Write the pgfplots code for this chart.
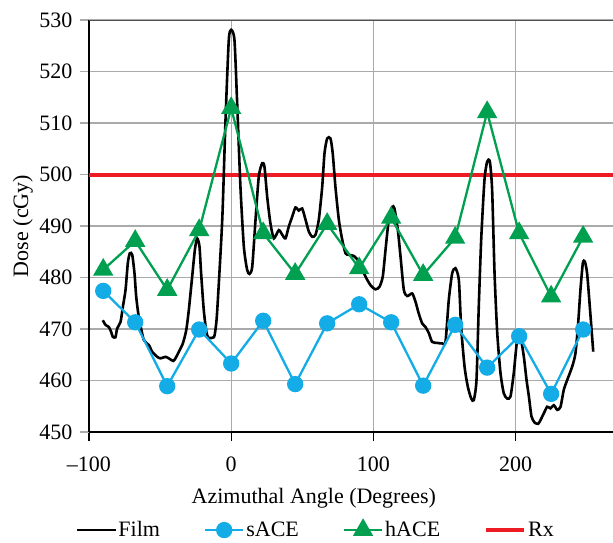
\documentclass[border=0pt]{standalone}
\usepackage{fontspec}
\setmainfont{Liberation Serif}
\usepackage{pgfplots}
\pgfplotsset{compat=1.18}
\definecolor{saceblue}{RGB}{20,172,230}
\definecolor{hacegreen}{RGB}{0,160,80}
\definecolor{rxred}{RGB}{237,28,36}
\definecolor{gridgray}{RGB}{170,170,170}
\definecolor{topgray}{RGB}{80,80,80}
\newcommand{\bigf}{\fontsize{22}{26}\selectfont}
\begin{document}
\begin{tikzpicture}
\path[use as bounding box] (-89pt,-110pt) rectangle (524pt,432pt);
\begin{axis}[
  at={(0pt,0pt)}, anchor=south west,
  scale only axis, width=524pt, height=412pt,
  xmin=-100, xmax=268.5, ymin=450, ymax=530,
  axis x line*=bottom, axis y line*=left,
  axis line style={line width=1.3pt, black},
  xtick={-100,0,100,200}, xticklabels={--100,0,100,200},
  ytick={450,460,...,530},
  /pgf/number format/assume math mode=true,
  tick align=outside, major tick length=9pt,
  tick style={line width=1.2pt, black},
  ytick style={gridgray, line width=1.3pt},
  grid=major,
  major grid style={line width=1.3pt, gridgray},
  tick label style={font=\bigf},
  xticklabel style={yshift=-12pt},
  yticklabel style={xshift=-4pt},
  label style={font=\bigf},
  xlabel={Azimuthal Angle (Degrees)},
  ylabel={Dose (cGy)},
  xlabel style={at={(axis description cs:0.429,-0.160)}, anchor=center},
  ylabel style={at={(axis description cs:-0.126,0.5)}, anchor=center},
  legend style={at={(axis description cs:0.433,-0.238)}, anchor=center,
    draw=none, fill=none, font=\bigf,
    /tikz/every even column/.append style={column sep=42pt}},
  legend columns=4,
  legend image code/.code={\draw[mark repeat=2,mark phase=2,#1] plot coordinates {(0pt,0pt) (19pt,0pt) (38pt,0pt)};},
]
\addplot[rxred, line width=4pt, forget plot] coordinates {(-100,500) (268.5,500)};
\addplot[black, line width=2.6pt, smooth, tension=0.4] coordinates {
(-90.3,471.7) (-88.4,470.8) (-86.1,470.4) (-84.5,469.5) (-83.3,468.5) (-81.4,468.4) (-80.2,470.1) (-77.8,471.4) (-76.2,474.3) (-74.3,477.6) (-72.7,482.8) (-71.3,484.7) (-69.6,484.4) (-68,480.8) (-66.8,476.3) (-65,472.4) (-61.5,467.9) (-57.9,466.9) (-55.6,465.6) (-52,464.6) (-49.7,464.3) (-46.2,464.6) (-43.9,464.3) (-40.8,463.8) (-39.2,464.3) (-36.8,465.6) (-34,467.2) (-31.6,469.8) (-29.8,473.7) (-27.5,480) (-25.5,485.5) (-23.9,487.6) (-22.3,486) (-21.2,481) (-19.3,473.7) (-17.5,469.5) (-16,468.3) (-12.2,468.4) (-11,470) (-9.8,473.7) (-6.3,491.2) (-4,510.6) (-1.7,526.1) (0,528.1) (2.3,526.1) (4.2,513.8) (6.5,497.6) (8.9,486) (11.2,481.5) (12.9,480.7) (14.8,482.1) (17.1,491.2) (19.4,499.6) (21.8,502.2) (23.4,501.5) (25.3,495.7) (27.6,490.5) (30,487.6) (33.5,489.2) (35.9,488.3) (38.2,487.6) (40.5,489.9) (42.9,491.8) (45.2,493.6) (47.5,493.0) (49.9,493.4) (52.3,491.2) (54.6,488.9) (57,487.9) (59.3,488.3) (61.6,491.2) (64,497.6) (65.6,504.1) (67.5,507.0) (69.8,507.0) (71.4,504.1) (73.3,497.6) (75.7,491.2) (78.1,487.3) (80.4,484.7) (82.7,484.4) (86.2,484.2) (89,483.4) (90.9,482.4) (94.4,480.2) (98,478.5) (101.5,477.7) (104.3,478.2) (106.6,480.2) (108.5,485.3) (110.8,491.2) (113.2,493.7) (114.8,493.4) (117.2,489.2) (119.1,484.0) (121.4,477.6) (123.8,476.4) (127.3,476.9) (129.6,475.3) (131.9,473.0) (134.3,471.1) (136.6,470.4) (139,469.2) (141.3,467.5) (144.9,467.3) (148.4,467.2) (150.7,467.5) (153,475.6) (155.4,480.8) (157.7,481.8) (160.1,479.5) (161.7,470.4) (164.1,462.7) (166.4,458.8) (168.8,456.5) (170.6,456.2) (172.5,460.1) (174.1,474.3) (175.8,487.3) (178.1,498.9) (180,502.5) (181.9,502.5) (183.5,497.0) (185.2,480.8) (187.1,469.2) (189.4,461.4) (191.7,457.5) (194.1,456.5) (196.4,456.9) (198.7,461.4) (201.1,467.9) (203.4,468.5) (205.8,464.6) (207.7,460.1) (209.3,457) (211.2,453) (213.5,451.8) (215.9,451.6) (217.5,452.3) (219.8,453.6) (222.2,454.9) (224.5,454.6) (226.9,455.2) (229.3,454.3) (231.6,454.9) (233.9,458.2) (236.3,460.1) (239.8,462.7) (242.1,465.3) (244,471.1) (245.6,477.6) (247.3,482.8) (248.7,483.1) (250.3,480.8) (252.2,474.3) (254.6,465.6)
};
\addlegendentry{Film}
\addplot[saceblue, line width=2.3pt, mark=*, mark size=7pt, mark options={fill=saceblue, draw=saceblue}] coordinates {
(-90,477.4) (-67.5,471.3) (-45,458.9) (-22.5,469.9) (0,463.3) (22.5,471.6) (45,459.3) (67.5,471.1) (90,474.8) (112.5,471.3) (135,459.0) (157.5,470.8) (180,462.5) (202.5,468.6) (225,457.4) (247.5,469.9)
};
\addlegendentry{sACE}
\addplot[hacegreen, line width=2.3pt, mark=triangle*, mark size=9.5pt, mark options={fill=hacegreen, draw=hacegreen}] coordinates {
(-90,481.5) (-67.5,487.1) (-45,477.6) (-22.5,489.2) (0,512.9) (22.5,488.6) (45,480.7) (67.5,490.4) (90,481.8) (112.5,491.6) (135,480.5) (157.5,487.7) (180,512.1) (202.5,488.6) (225,476.3) (247.5,487.9)
};
\addlegendentry{hACE}
\addlegendimage{rxred, line width=4pt}
\addlegendentry{Rx}
\draw[topgray, line width=1.3pt] (rel axis cs:0,1) -- (rel axis cs:1,1);
\end{axis}
\end{tikzpicture}
\end{document}
